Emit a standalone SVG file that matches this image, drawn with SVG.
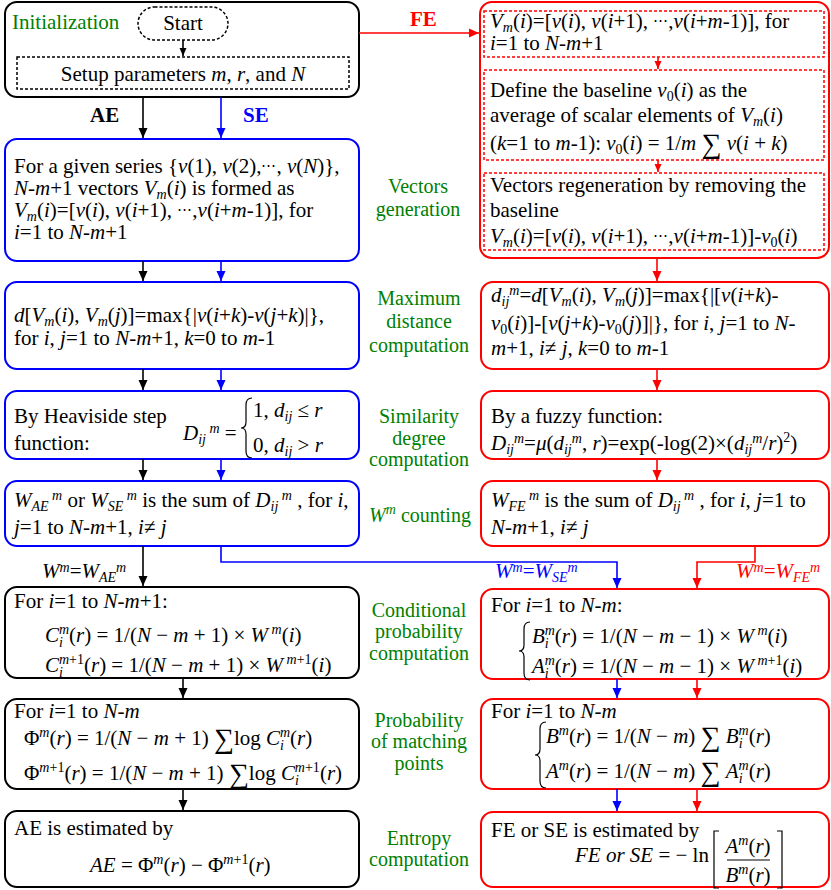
<svg xmlns="http://www.w3.org/2000/svg" width="831" height="890" viewBox="0 0 831 890">
<style>
text{font-family:"Liberation Serif","Times New Roman",serif;font-size:21px;fill:#000}
.i{font-style:italic}
.s{font-size:14px}
.dots{font-size:15px}
.g{fill:#008000;text-anchor:middle;font-size:20px}
.bl{fill:#0000ff}
.rd{fill:#ff0000}
.b{font-weight:bold}
.big{font-size:28px}
.box{fill:#fff;stroke-width:2}
.k{stroke:#000}
.u{stroke:#0000ff}
.r{stroke:#ff0000}
.dash{fill:none;stroke-width:1.5;stroke-dasharray:3 2}
.c{fill:none;stroke-width:1.6}
.br{fill:none;stroke:#000;stroke-width:1.2}
</style>
<defs>
<marker id="ak" markerUnits="userSpaceOnUse" markerWidth="10" markerHeight="10" refX="10" refY="5" orient="auto"><path d="M0,0.5L10,5L0,9.5z" fill="#000"/></marker>
<marker id="au" markerUnits="userSpaceOnUse" markerWidth="10" markerHeight="10" refX="10" refY="5" orient="auto"><path d="M0,0.5L10,5L0,9.5z" fill="#0000ff"/></marker>
<marker id="ar" markerUnits="userSpaceOnUse" markerWidth="10" markerHeight="10" refX="10" refY="5" orient="auto"><path d="M0,0.5L10,5L0,9.5z" fill="#ff0000"/></marker>
<marker id="aks" markerUnits="userSpaceOnUse" markerWidth="8" markerHeight="8" refX="8" refY="4" orient="auto"><path d="M0,0.5L8,4L0,7.5z" fill="#000"/></marker>
<marker id="ars" markerUnits="userSpaceOnUse" markerWidth="8" markerHeight="8" refX="8" refY="4" orient="auto"><path d="M0,0.5L8,4L0,7.5z" fill="#ff0000"/></marker>
</defs>

<g id="init">
<rect class="box k" x="5" y="2" width="354" height="95" rx="12"/>
<text class="g" x="12" y="29" style="text-anchor:start;font-size:21px">Initialization</text>
<g id="start"><rect class="dash k" x="138" y="7" width="90" height="33" rx="16.5"/>
<text x="183" y="30" text-anchor="middle">Start</text></g>
<g id="setup"><rect class="dash k" x="17" y="57" width="332" height="32"/>
<text x="183" y="81" text-anchor="middle">Setup parameters <tspan class="i">m</tspan>, <tspan class="i">r</tspan>, and <tspan class="i">N</tspan></text></g>
</g>

<g id="fe-vectors">
<rect class="box r" x="480" y="2" width="349" height="256" rx="12"/>
<g id="fe-vec1"><rect class="dash r" x="484" y="11" width="340" height="46"/>
<text x="490" y="28"><tspan class="i">V</tspan><tspan class="i s" dy="4">m</tspan><tspan dy="-4">(</tspan><tspan class="i">i</tspan>)=[<tspan class="i">v</tspan>(<tspan class="i">i</tspan>), <tspan class="i">v</tspan>(<tspan class="i">i</tspan>+1), <tspan class="dots" dy="-3">⋯</tspan><tspan dy="3">,</tspan><tspan class="i">v</tspan>(<tspan class="i">i</tspan>+<tspan class="i">m</tspan>-1)], for</text>
<text x="490" y="50"><tspan class="i">i</tspan>=1 to <tspan class="i">N</tspan>-<tspan class="i">m</tspan>+1</text></g>
<g id="fe-baseline"><rect class="dash r" x="484" y="70" width="340" height="90"/>
<text x="490" y="97">Define the baseline <tspan class="i">v</tspan><tspan class="s" dy="4">0</tspan><tspan dy="-4">(</tspan><tspan class="i">i</tspan>) as the</text>
<text x="490" y="122">average of scalar elements of <tspan class="i">V</tspan><tspan class="i s" dy="4">m</tspan><tspan dy="-4">(</tspan><tspan class="i">i</tspan>)</text>
<text x="490" y="150">(<tspan class="i">k</tspan>=1 to <tspan class="i">m</tspan>-1): <tspan class="i">v</tspan><tspan class="s" dy="4">0</tspan><tspan dy="-4">(</tspan><tspan class="i">i</tspan>) = 1/<tspan class="i">m</tspan> <tspan class="big" dy="3">∑</tspan><tspan dy="-3"> </tspan><tspan class="i">v</tspan>(<tspan class="i">i</tspan> + <tspan class="i">k</tspan>)</text></g>
<g id="fe-regen"><rect class="dash r" x="484" y="173" width="340" height="77"/>
<text x="490" y="192">Vectors regeneration by removing the</text>
<text x="490" y="217">baseline</text>
<text x="490" y="243"><tspan class="i">V</tspan><tspan class="i s" dy="4">m</tspan><tspan dy="-4">(</tspan><tspan class="i">i</tspan>)=[<tspan class="i">v</tspan>(<tspan class="i">i</tspan>), <tspan class="i">v</tspan>(<tspan class="i">i</tspan>+1), <tspan class="dots" dy="-3">⋯</tspan><tspan dy="3">,</tspan><tspan class="i">v</tspan>(<tspan class="i">i</tspan>+<tspan class="i">m</tspan>-1)]-<tspan class="i">v</tspan><tspan class="s" dy="4">0</tspan><tspan dy="-4">(</tspan><tspan class="i">i</tspan>)</text></g>
</g>

<g id="vectors">
<rect class="box u" x="5" y="139" width="354" height="122" rx="12"/>
<text x="14" y="173">For a given series {<tspan class="i">v</tspan>(1), <tspan class="i">v</tspan>(2),<tspan class="dots" dy="-3">⋯</tspan><tspan dy="3">, </tspan><tspan class="i">v</tspan>(<tspan class="i">N</tspan>)},</text>
<text x="14" y="195"><tspan class="i">N</tspan>-<tspan class="i">m</tspan>+1 vectors <tspan class="i">V</tspan><tspan class="i s" dy="4">m</tspan><tspan dy="-4">(</tspan><tspan class="i">i</tspan>) is formed as</text>
<text x="14" y="217"><tspan class="i">V</tspan><tspan class="i s" dy="4">m</tspan><tspan dy="-4">(</tspan><tspan class="i">i</tspan>)=[<tspan class="i">v</tspan>(<tspan class="i">i</tspan>), <tspan class="i">v</tspan>(<tspan class="i">i</tspan>+1), <tspan class="dots" dy="-3">⋯</tspan><tspan dy="3">,</tspan><tspan class="i">v</tspan>(<tspan class="i">i</tspan>+<tspan class="i">m</tspan>-1)], for</text>
<text x="14" y="239"><tspan class="i">i</tspan>=1 to <tspan class="i">N</tspan>-<tspan class="i">m</tspan>+1</text>
</g>

<g id="dist-left">
<rect class="box u" x="5" y="282" width="354" height="87" rx="12"/>
<text x="14" y="322"><tspan class="i">d</tspan>[<tspan class="i">V</tspan><tspan class="i s" dy="4">m</tspan><tspan dy="-4">(</tspan><tspan class="i">i</tspan>), <tspan class="i">V</tspan><tspan class="i s" dy="4">m</tspan><tspan dy="-4">(</tspan><tspan class="i">j</tspan>)]=max{|<tspan class="i">v</tspan>(<tspan class="i">i</tspan>+<tspan class="i">k</tspan>)-<tspan class="i">v</tspan>(<tspan class="i">j</tspan>+<tspan class="i">k</tspan>)|},</text>
<text x="14" y="345">for <tspan class="i">i</tspan>, <tspan class="i">j</tspan>=1 to <tspan class="i">N</tspan>-<tspan class="i">m</tspan>+1, <tspan class="i">k</tspan>=0 to <tspan class="i">m</tspan>-1</text>
</g>

<g id="dist-right">
<rect class="box r" x="481" y="282" width="348" height="87" rx="12"/>
<text x="491" y="302"><tspan class="i">d</tspan><tspan class="i s" dy="4">ij</tspan><tspan class="i s" dy="-11">m</tspan><tspan dy="7">=</tspan><tspan class="i">d</tspan>[<tspan class="i">V</tspan><tspan class="i s" dy="4">m</tspan><tspan dy="-4">(</tspan><tspan class="i">i</tspan>), <tspan class="i">V</tspan><tspan class="i s" dy="4">m</tspan><tspan dy="-4">(</tspan><tspan class="i">j</tspan>)]=max{|[<tspan class="i">v</tspan>(<tspan class="i">i</tspan>+<tspan class="i">k</tspan>)-</text>
<text x="491" y="330"><tspan class="i">v</tspan><tspan class="s" dy="4">0</tspan><tspan dy="-4">(</tspan><tspan class="i">i</tspan>)]-[<tspan class="i">v</tspan>(<tspan class="i">j</tspan>+<tspan class="i">k</tspan>)-<tspan class="i">v</tspan><tspan class="s" dy="4">0</tspan><tspan dy="-4">(</tspan><tspan class="i">j</tspan>)]|}, for <tspan class="i">i</tspan>, <tspan class="i">j</tspan>=1 to <tspan class="i">N</tspan>-</text>
<text x="491" y="355"><tspan class="i">m</tspan>+1, <tspan class="i">i</tspan>≠ <tspan class="i">j</tspan>, <tspan class="i">k</tspan>=0 to <tspan class="i">m</tspan>-1</text>
</g>

<g id="sim-left">
<rect class="box u" x="5" y="391" width="354" height="68" rx="12"/>
<text x="14" y="423">By Heaviside step</text>
<text x="14" y="450">function:</text>
<text x="183" y="440"><tspan class="i">D</tspan><tspan class="i s" dy="4">ij</tspan><tspan class="i s" dy="-11"> m</tspan><tspan dy="7"> =</tspan></text>
<path class="br" d="M252,398 Q246,398 246,405 L246,422 Q246,428 241,428 Q246,428 246,434 L246,451 Q246,458 252,458"/>
<text x="253" y="417">1, <tspan class="i">d</tspan><tspan class="i s" dy="4">ij</tspan><tspan dy="-4"> ≤ </tspan><tspan class="i">r</tspan></text>
<text x="253" y="452">0, <tspan class="i">d</tspan><tspan class="i s" dy="4">ij</tspan><tspan dy="-4"> &gt; </tspan><tspan class="i">r</tspan></text>
</g>

<g id="sim-right">
<rect class="box r" x="481" y="391" width="348" height="68" rx="12"/>
<text x="491" y="423">By a fuzzy function:</text>
<text x="491" y="450"><tspan class="i">D</tspan><tspan class="i s" dy="4">ij</tspan><tspan class="i s" dy="-11">m</tspan><tspan dy="7">=</tspan><tspan class="i">μ</tspan>(<tspan class="i">d</tspan><tspan class="i s" dy="4">ij</tspan><tspan class="i s" dy="-11">m</tspan><tspan dy="7">, </tspan><tspan class="i">r</tspan>)=exp(-log(2)×(<tspan class="i">d</tspan><tspan class="i s" dy="4">ij</tspan><tspan class="i s" dy="-11">m</tspan><tspan dy="7">/</tspan><tspan class="i">r</tspan>)<tspan class="s" dy="-8">2</tspan><tspan dy="8">)</tspan></text>
</g>

<g id="count-left">
<rect class="box u" x="5" y="481" width="354" height="65" rx="12"/>
<text x="14" y="507"><tspan class="i">W</tspan><tspan class="i s" dy="4">AE</tspan><tspan class="i s" dy="-11"> m</tspan><tspan dy="7"> or </tspan><tspan class="i">W</tspan><tspan class="i s" dy="4">SE</tspan><tspan class="i s" dy="-11"> m</tspan><tspan dy="7"> is the sum of </tspan><tspan class="i">D</tspan><tspan class="i s" dy="4">ij</tspan><tspan class="i s" dy="-11"> m</tspan><tspan dy="7"> , for </tspan><tspan class="i">i</tspan>,</text>
<text x="14" y="534"><tspan class="i">j</tspan>=1 to <tspan class="i">N</tspan>-<tspan class="i">m</tspan>+1, <tspan class="i">i</tspan>≠ <tspan class="i">j</tspan></text>
</g>

<g id="count-right">
<rect class="box r" x="481" y="481" width="348" height="65" rx="12"/>
<text x="491" y="507"><tspan class="i">W</tspan><tspan class="i s" dy="4">FE</tspan><tspan class="i s" dy="-11"> m</tspan><tspan dy="7"> is the sum of </tspan><tspan class="i">D</tspan><tspan class="i s" dy="4">ij</tspan><tspan class="i s" dy="-11"> m</tspan><tspan dy="7"> , for </tspan><tspan class="i">i</tspan>, <tspan class="i">j</tspan>=1 to</text>
<text x="491" y="534"><tspan class="i">N</tspan>-<tspan class="i">m</tspan>+1, <tspan class="i">i</tspan>≠ <tspan class="i">j</tspan></text>
</g>

<g id="cond-left">
<rect class="box k" x="5" y="587" width="354" height="91" rx="12"/>
<text x="14" y="608">For <tspan class="i">i</tspan>=1 to <tspan class="i">N</tspan>-<tspan class="i">m</tspan>+1:</text>
<text x="45" y="642"><tspan class="i">C</tspan><tspan class="i s" dy="5">i</tspan><tspan class="i s" dx="-4" dy="-13">m</tspan><tspan dy="8">(</tspan><tspan class="i">r</tspan>) = 1/(<tspan class="i">N</tspan> − <tspan class="i">m</tspan> + 1) × <tspan class="i">W</tspan><tspan class="i s" dy="-8"> m</tspan><tspan dy="8">(</tspan><tspan class="i">i</tspan>)</text>
<text x="45" y="672"><tspan class="i">C</tspan><tspan class="i s" dy="5">i</tspan><tspan class="s" dx="-4" dy="-13"><tspan class="i">m</tspan>+1</tspan><tspan dy="8">(</tspan><tspan class="i">r</tspan>) = 1/(<tspan class="i">N</tspan> − <tspan class="i">m</tspan> + 1) × <tspan class="i">W</tspan><tspan class="s" dy="-8"> <tspan class="i">m</tspan>+1</tspan><tspan dy="8">(</tspan><tspan class="i">i</tspan>)</text>
</g>

<g id="cond-right">
<rect class="box r" x="481" y="589" width="348" height="90" rx="12"/>
<text x="491" y="612">For <tspan class="i">i</tspan>=1 to <tspan class="i">N</tspan>-<tspan class="i">m</tspan>:</text>
<path class="br" d="M530,622 Q524,622 524,629 L524,645 Q524,651 519,651 Q524,651 524,657 L524,673 Q524,680 530,680"/>
<text x="532" y="643"><tspan class="i">B</tspan><tspan class="i s" dy="5">i</tspan><tspan class="i s" dx="-4" dy="-13">m</tspan><tspan dy="8">(</tspan><tspan class="i">r</tspan>) = 1/(<tspan class="i">N</tspan> − <tspan class="i">m</tspan> − 1) × <tspan class="i">W</tspan><tspan class="i s" dy="-8"> m</tspan><tspan dy="8">(</tspan><tspan class="i">i</tspan>)</text>
<text x="532" y="673"><tspan class="i">A</tspan><tspan class="i s" dy="5">i</tspan><tspan class="i s" dx="-4" dy="-13">m</tspan><tspan dy="8">(</tspan><tspan class="i">r</tspan>) = 1/(<tspan class="i">N</tspan> − <tspan class="i">m</tspan> − 1) × <tspan class="i">W</tspan><tspan class="s" dy="-8"> <tspan class="i">m</tspan>+1</tspan><tspan dy="8">(</tspan><tspan class="i">i</tspan>)</text>
</g>

<g id="prob-left">
<rect class="box k" x="5" y="699" width="354" height="90" rx="12"/>
<text x="14" y="718">For <tspan class="i">i</tspan>=1 to <tspan class="i">N</tspan>-<tspan class="i">m</tspan></text>
<text x="24" y="745">Φ<tspan class="i s" dy="-8">m</tspan><tspan dy="8">(</tspan><tspan class="i">r</tspan>) = 1/(<tspan class="i">N</tspan> − <tspan class="i">m</tspan> + 1) <tspan class="big" dy="3">∑</tspan><tspan dy="-3">log </tspan><tspan class="i">C</tspan><tspan class="i s" dy="5">i</tspan><tspan class="i s" dx="-4" dy="-13">m</tspan><tspan dy="8">(</tspan><tspan class="i">r</tspan>)</text>
<text x="24" y="780">Φ<tspan class="s" dy="-8"><tspan class="i">m</tspan>+1</tspan><tspan dy="8">(</tspan><tspan class="i">r</tspan>) = 1/(<tspan class="i">N</tspan> − <tspan class="i">m</tspan> + 1) <tspan class="big" dy="3">∑</tspan><tspan dy="-3">log </tspan><tspan class="i">C</tspan><tspan class="i s" dy="5">i</tspan><tspan class="s" dx="-4" dy="-13"><tspan class="i">m</tspan>+1</tspan><tspan dy="8">(</tspan><tspan class="i">r</tspan>)</text>
</g>

<g id="prob-right">
<rect class="box r" x="481" y="699" width="348" height="90" rx="12"/>
<text x="491" y="718">For <tspan class="i">i</tspan>=1 to <tspan class="i">N</tspan>-<tspan class="i">m</tspan></text>
<path class="br" d="M546,722 Q540,722 540,729 L540,749 Q540,755 535,755 Q540,755 540,761 L540,781 Q540,788 546,788"/>
<text x="546" y="743"><tspan class="i">B</tspan><tspan class="i s" dy="-8">m</tspan><tspan dy="8">(</tspan><tspan class="i">r</tspan>) = 1/(<tspan class="i">N</tspan> − <tspan class="i">m</tspan>) <tspan class="big" dy="3">∑</tspan><tspan dy="-3"> </tspan><tspan class="i">B</tspan><tspan class="i s" dy="5">i</tspan><tspan class="i s" dx="-4" dy="-13">m</tspan><tspan dy="8">(</tspan><tspan class="i">r</tspan>)</text>
<text x="546" y="778"><tspan class="i">A</tspan><tspan class="i s" dy="-8">m</tspan><tspan dy="8">(</tspan><tspan class="i">r</tspan>) = 1/(<tspan class="i">N</tspan> − <tspan class="i">m</tspan>) <tspan class="big" dy="3">∑</tspan><tspan dy="-3"> </tspan><tspan class="i">A</tspan><tspan class="i s" dy="5">i</tspan><tspan class="i s" dx="-4" dy="-13">m</tspan><tspan dy="8">(</tspan><tspan class="i">r</tspan>)</text>
</g>

<g id="entropy-left">
<rect class="box k" x="5" y="811" width="354" height="76" rx="12"/>
<text x="14" y="835">AE is estimated by</text>
<text x="90" y="872"><tspan class="i">AE</tspan> = Φ<tspan class="i s" dy="-8">m</tspan><tspan dy="8">(</tspan><tspan class="i">r</tspan>) − Φ<tspan class="s" dy="-8"><tspan class="i">m</tspan>+1</tspan><tspan dy="8">(</tspan><tspan class="i">r</tspan>)</text>
</g>

<g id="entropy-right">
<rect class="box r" x="481" y="812" width="348" height="75" rx="12"/>
<text x="491" y="837">FE or SE is estimated by</text>
<text x="575" y="862"><tspan class="i">FE or SE</tspan> = − ln</text>
<path class="br" d="M719,831 H714 V888 H719 M777,831 H782 V888 H777"/>
<text x="748" y="853" text-anchor="middle"><tspan class="i">A</tspan><tspan class="i s" dy="-8">m</tspan><tspan dy="8">(</tspan><tspan class="i">r</tspan>)</text>
<path d="M727,860 H770" stroke="#000" stroke-width="1"/>
<text x="748" y="882" text-anchor="middle"><tspan class="i">B</tspan><tspan class="i s" dy="-8">m</tspan><tspan dy="8">(</tspan><tspan class="i">r</tspan>)</text>
</g>

<g id="stage-labels">
<text class="g" x="418" y="193">Vectors</text>
<text class="g" x="418" y="216">generation</text>
<text class="g" x="419" y="305">Maximum</text>
<text class="g" x="419" y="328">distance</text>
<text class="g" x="419" y="352">computation</text>
<text class="g" x="419" y="423">Similarity</text>
<text class="g" x="419" y="445">degree</text>
<text class="g" x="419" y="466">computation</text>
<text class="g" x="420" y="522"><tspan class="i">W</tspan><tspan class="i s" dy="-8">m</tspan><tspan dy="8"> counting</tspan></text>
<text class="g" x="419" y="617">Conditional</text>
<text class="g" x="419" y="638">probability</text>
<text class="g" x="419" y="660">computation</text>
<text class="g" x="419" y="727">Probability</text>
<text class="g" x="419" y="748">of matching</text>
<text class="g" x="419" y="770">points</text>
<text class="g" x="419" y="845">Entropy</text>
<text class="g" x="419" y="866">computation</text>
</g>

<g id="connectors">
<path class="c k" d="M183,40 V56" marker-end="url(#aks)"/>
<path class="c r" d="M658,57 V69" marker-end="url(#ars)"/>
<path class="c r" d="M658,160 V172" marker-end="url(#ars)"/>
<path class="c r" d="M359,33 H479" marker-end="url(#ar)"/>
<path class="c k" d="M143,97 V138" marker-end="url(#ak)"/>
<path class="c u" d="M221,97 V138" marker-end="url(#au)"/>
<path class="c k" d="M143,261 V281" marker-end="url(#ak)"/>
<path class="c u" d="M221,261 V281" marker-end="url(#au)"/>
<path class="c r" d="M657,258 V281" marker-end="url(#ar)"/>
<path class="c k" d="M143,369 V390" marker-end="url(#ak)"/>
<path class="c u" d="M221,369 V390" marker-end="url(#au)"/>
<path class="c r" d="M657,369 V390" marker-end="url(#ar)"/>
<path class="c k" d="M143,459 V480" marker-end="url(#ak)"/>
<path class="c u" d="M221,459 V480" marker-end="url(#au)"/>
<path class="c r" d="M657,459 V480" marker-end="url(#ar)"/>
<path class="c k" d="M143,546 V586" marker-end="url(#ak)"/>
<path class="c u" d="M221,546 V562 H617 V588" marker-end="url(#au)"/>
<path class="c r" d="M755,546 V562 H697 V588" marker-end="url(#ar)"/>
<path class="c k" d="M183,678 V698" marker-end="url(#ak)"/>
<path class="c u" d="M617,679 V698" marker-end="url(#au)"/>
<path class="c r" d="M697,679 V698" marker-end="url(#ar)"/>
<path class="c k" d="M183,789 V810" marker-end="url(#ak)"/>
<path class="c u" d="M617,789 V811" marker-end="url(#au)"/>
<path class="c r" d="M697,789 V811" marker-end="url(#ar)"/>
<text class="b" x="90" y="122">AE</text>
<text class="b bl" x="243" y="122">SE</text>
<text class="b rd" x="410" y="26">FE</text>
<text x="42" y="578"><tspan class="i">W</tspan><tspan class="i s" dy="-6">m</tspan><tspan dy="6">=</tspan><tspan class="i">W</tspan><tspan class="i s" dy="4">AE</tspan><tspan class="i s" dy="-10">m</tspan></text>
<text class="bl" x="495" y="578"><tspan class="i">W</tspan><tspan class="i s" dy="-6">m</tspan><tspan dy="6">=</tspan><tspan class="i">W</tspan><tspan class="i s" dy="4">SE</tspan><tspan class="i s" dy="-10">m</tspan></text>
<text class="rd" x="736" y="578"><tspan class="i">W</tspan><tspan class="i s" dy="-6">m</tspan><tspan dy="6">=</tspan><tspan class="i">W</tspan><tspan class="i s" dy="4">FE</tspan><tspan class="i s" dy="-10">m</tspan></text>
</g>
</svg>
